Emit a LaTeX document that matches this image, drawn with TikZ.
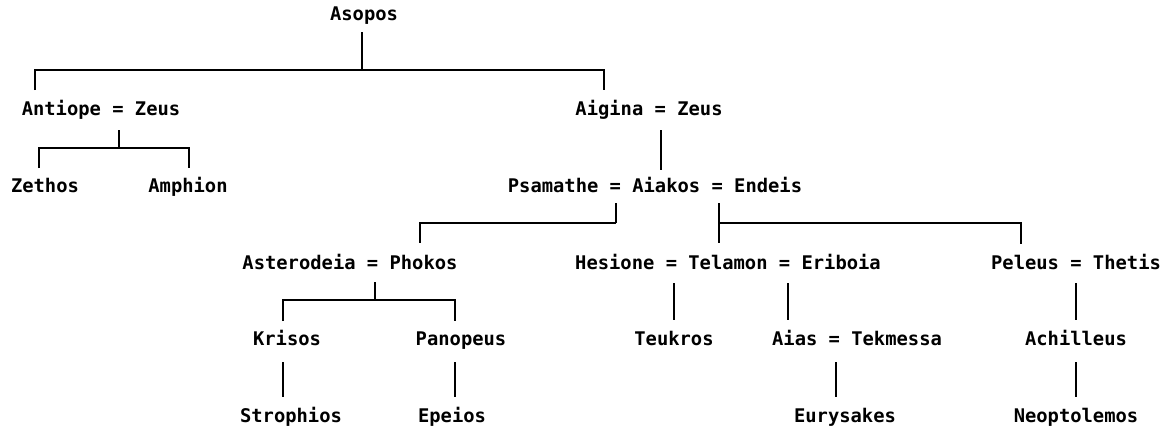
\documentclass[tikz,border=0pt]{standalone}
\usepackage{fontspec}
\newfontfamily\treefont{DejaVu Sans Mono Bold}
\begin{document}
\begin{tikzpicture}[x=0.75pt, y=-0.75pt, line width=1pt,
  person/.style={font=\treefont\fontsize{14.1}{16}\selectfont, inner sep=0pt, anchor=base}]
\useasboundingbox (0,0) rectangle (1169,429);
% generations
\node[person] (asopos) at (364,20) {Asopos};
\node[person] (antiope) at (101,115) {Antiope = Zeus};
\node[person] (aigina) at (649,115) {Aigina = Zeus};
\node[person] (zethos) at (45,192) {Zethos};
\node[person] (amphion) at (188,192) {Amphion};
\node[person] (aiakos) at (655,192) {Psamathe = Aiakos = Endeis};
\node[person] (phokos) at (350,269) {Asterodeia = Phokos};
\node[person] (telamon) at (728,269) {Hesione = Telamon = Eriboia};
\node[person] (peleus) at (1076,269) {Peleus = Thetis};
\node[person] (krisos) at (287,345) {Krisos};
\node[person] (panopeus) at (461,345) {Panopeus};
\node[person] (teukros) at (674,345) {Teukros};
\node[person] (aias) at (857,345) {Aias = Tekmessa};
\node[person] (achilleus) at (1076,345) {Achilleus};
\node[person] (strophios) at (291,422) {Strophios};
\node[person] (epeios) at (452,422) {Epeios};
\node[person] (eurysakes) at (845,422) {Eurysakes};
\node[person] (neoptolemos) at (1076,422) {Neoptolemos};

% lines of descent
\draw ([shift={(-2,12)}]asopos.base) -- ++(0,38) coordinate (j1);
\draw ([shift={(-66,-25)}]antiope.base) |- (j1) -| ([shift={(-45,-25)}]aigina.base);
\draw ([shift={(18,15)}]antiope.base) -- ++(0,18) coordinate (j2);
\draw ([shift={(-6,-24)}]zethos.base) |- (j2) -| ([shift={(1,-24)}]amphion.base);
\draw ([shift={(12,15)}]aigina.base) -- ([shift={(6,-22)}]aiakos.base);
\draw ([shift={(-39,11)}]aiakos.base) -- ++(0,20) coordinate (j3);
\draw (j3) -| ([shift={(70,-26)}]phokos.base);
\draw ([shift={(64,11)}]aiakos.base) -- ([shift={(-9,-26)}]telamon.base);
\draw ([shift={(64,31)}]aiakos.base) -| ([shift={(-55,-25)}]peleus.base);
\draw ([shift={(25,13)}]phokos.base) -- ++(0,18) coordinate (j4);
\draw ([shift={(-4,-24)}]krisos.base) |- (j4) -| ([shift={(-6,-24)}]panopeus.base);
\draw ([shift={(-54,14)}]telamon.base) -- ([shift={(0,-25)}]teukros.base);
\draw ([shift={(60,14)}]telamon.base) -- ([shift={(-69,-25)}]aias.base);
\draw ([shift={(0,14)}]peleus.base) -- ([shift={(0,-25)}]achilleus.base);
\draw ([shift={(-4,17)}]krisos.base) -- ([shift={(-8,-25)}]strophios.base);
\draw ([shift={(-6,17)}]panopeus.base) -- ([shift={(3,-25)}]epeios.base);
\draw ([shift={(-21,17)}]aias.base) -- ([shift={(-9,-25)}]eurysakes.base);
\draw ([shift={(0,17)}]achilleus.base) -- ([shift={(0,-25)}]neoptolemos.base);
\end{tikzpicture}
\end{document}
